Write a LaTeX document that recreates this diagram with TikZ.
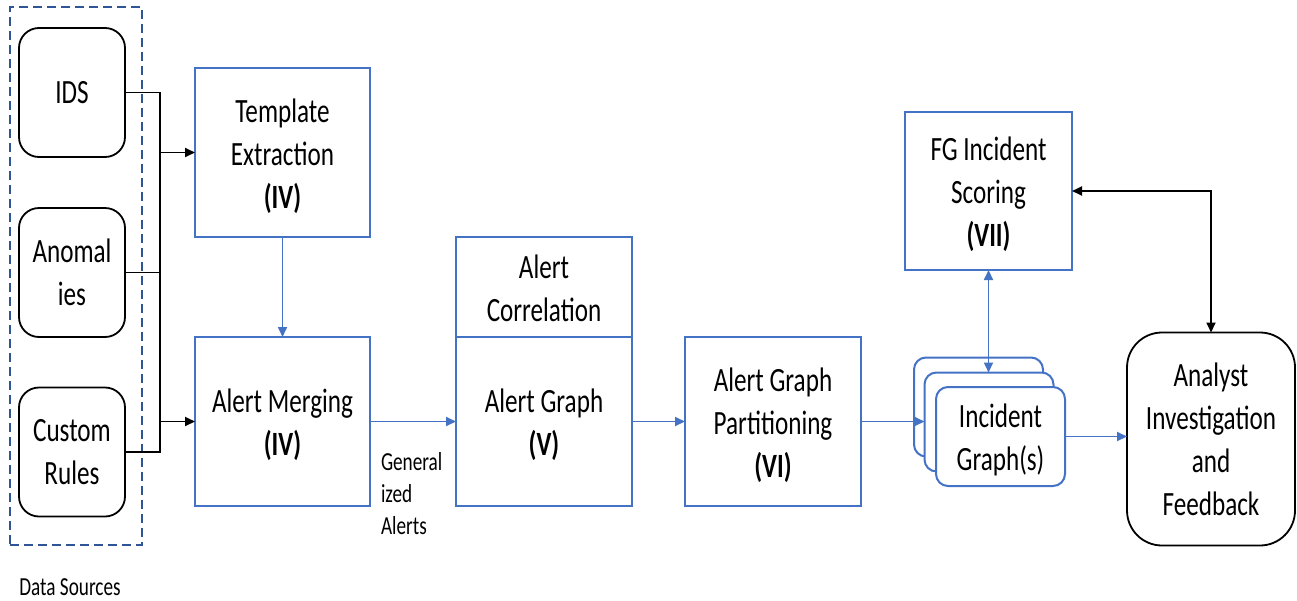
\documentclass[tikz,border=0pt]{standalone}
\usepackage{fontspec}
\setmainfont[FakeStretch=0.74]{Carlito}
\usetikzlibrary{arrows.meta}
\definecolor{boxblue}{HTML}{4472C4}
\definecolor{dashblue}{HTML}{2F5597}
% taller first line: sets the text block a little lower in its box
\newcommand{\toppad}{\rule{0pt}{31pt}}

\begin{document}
\begin{tikzpicture}[x=1pt,y=-1pt,
  every node/.style={inner sep=0pt, outer sep=0pt},
  main/.style={font=\fontsize{34}{43}\selectfont, align=center},
  small/.style={font=\fontsize{26}{32}\selectfont},
  srcbox/.style={main, draw=black, line width=1.8pt, rounded corners=20pt,
    minimum width=106, minimum height=129},
  stagebox/.style={main, draw=boxblue, line width=2pt, fill=white},
  incbox/.style={main, draw=boxblue, line width=2pt, fill=white, rounded corners=12pt,
    minimum width=129, minimum height=99},
  blueline/.style={draw=boxblue, line width=1.8pt},
  blueto/.style={blueline, -{Triangle[length=10pt,width=9pt]}},
  blueboth/.style={blueline, {Triangle[length=10pt,width=9pt]}-{Triangle[length=10pt,width=9pt]}},
  blackline/.style={draw=black, line width=1.8pt},
  blackto/.style={blackline, -{Triangle[length=10pt,width=9pt]}},
  blackboth/.style={blackline, {Triangle[length=10pt,width=9pt]}-{Triangle[length=10pt,width=9pt]}},
]
\useasboundingbox (0,0) rectangle (1297,600);

% data sources group
\node[draw=dashblue, line width=2.5pt, dash pattern=on 9pt off 5pt,
      minimum width=132, minimum height=538] (src) at (76,276) {};
\node[srcbox] (ids)  at (72,92.5)  {IDS};
\node[srcbox] (anom) at (72,272.5) {Anomal\\ies};
\node[srcbox] (cust) at (72,452)   {Custom\\Rules};
\node[small] (srclbl) at (70,587) {Data Sources};

% pipeline stages
\node[stagebox, minimum width=175, minimum height=169] (tmpl) at (282.5,152.5)
  {\toppad Template\\Extraction\\\textbf{(IV)}};
\node[stagebox, minimum width=175, minimum height=169] (merge) at (282.5,421.5)
  {\toppad Alert Merging\\\textbf{(IV)}};
\node[stagebox, minimum width=176, minimum height=100] (corr) at (544,287)
  {\rule{0pt}{27pt}Alert\\Correlation};
\node[stagebox, minimum width=176, minimum height=169] (agraph) at (544,421.5)
  {\toppad Alert Graph\\\textbf{(V)}};
\node[stagebox, minimum width=176, minimum height=169] (part) at (773,421.5)
  {\toppad Alert Graph\\Partitioning\\\textbf{(VI)}};
\node[stagebox, minimum width=167, minimum height=158] (fg) at (988.5,191)
  {\toppad FG Incident\\Scoring\\\textbf{(VII)}};

% stacked incident graphs
\node[incbox] (inc1) at (978.5,407) {};
\node[incbox] (inc2) at (989,422) {};
\node[incbox] (inc3) at (1000.5,436.5) {\toppad Incident\\Graph(s)};

\node[main, draw=black, line width=1.8pt, rounded corners=35pt,
      minimum width=168, minimum height=213] (ana) at (1211,439)
  {Analyst\\Investigation\\and\\Feedback};

\node[small, align=left, anchor=north west] (genlbl) at (381,452)
  {General\\ized\\Alerts};

% source bus
\coordinate (bus) at (160,0);
\draw[blackline] (ids.east) -- (ids.east -| bus) -- (cust.east -| bus) -- (cust.east);
\draw[blackline] (anom.east) -- (anom.east -| bus);
\draw[blackto] (tmpl.west -| bus) -- (tmpl.west);
\draw[blackto] (merge.west -| bus) -- (merge.west);

% pipeline connectors
\draw[blueto] (tmpl.south) -- (merge.north);
\draw[blueto] (merge.east) -- (agraph.west);
\draw[blueto] (agraph.east) -- (part.west);
\draw[blueto] (part.east) -- (part.east -| inc2.west);
\draw[blueboth] (fg.south) -- (fg.south |- inc2.north);
\draw[blueto] (inc3.east) -- (inc3.east -| ana.west);
\draw[blackboth] (fg.east) -| (ana.north);
\end{tikzpicture}
\end{document}
